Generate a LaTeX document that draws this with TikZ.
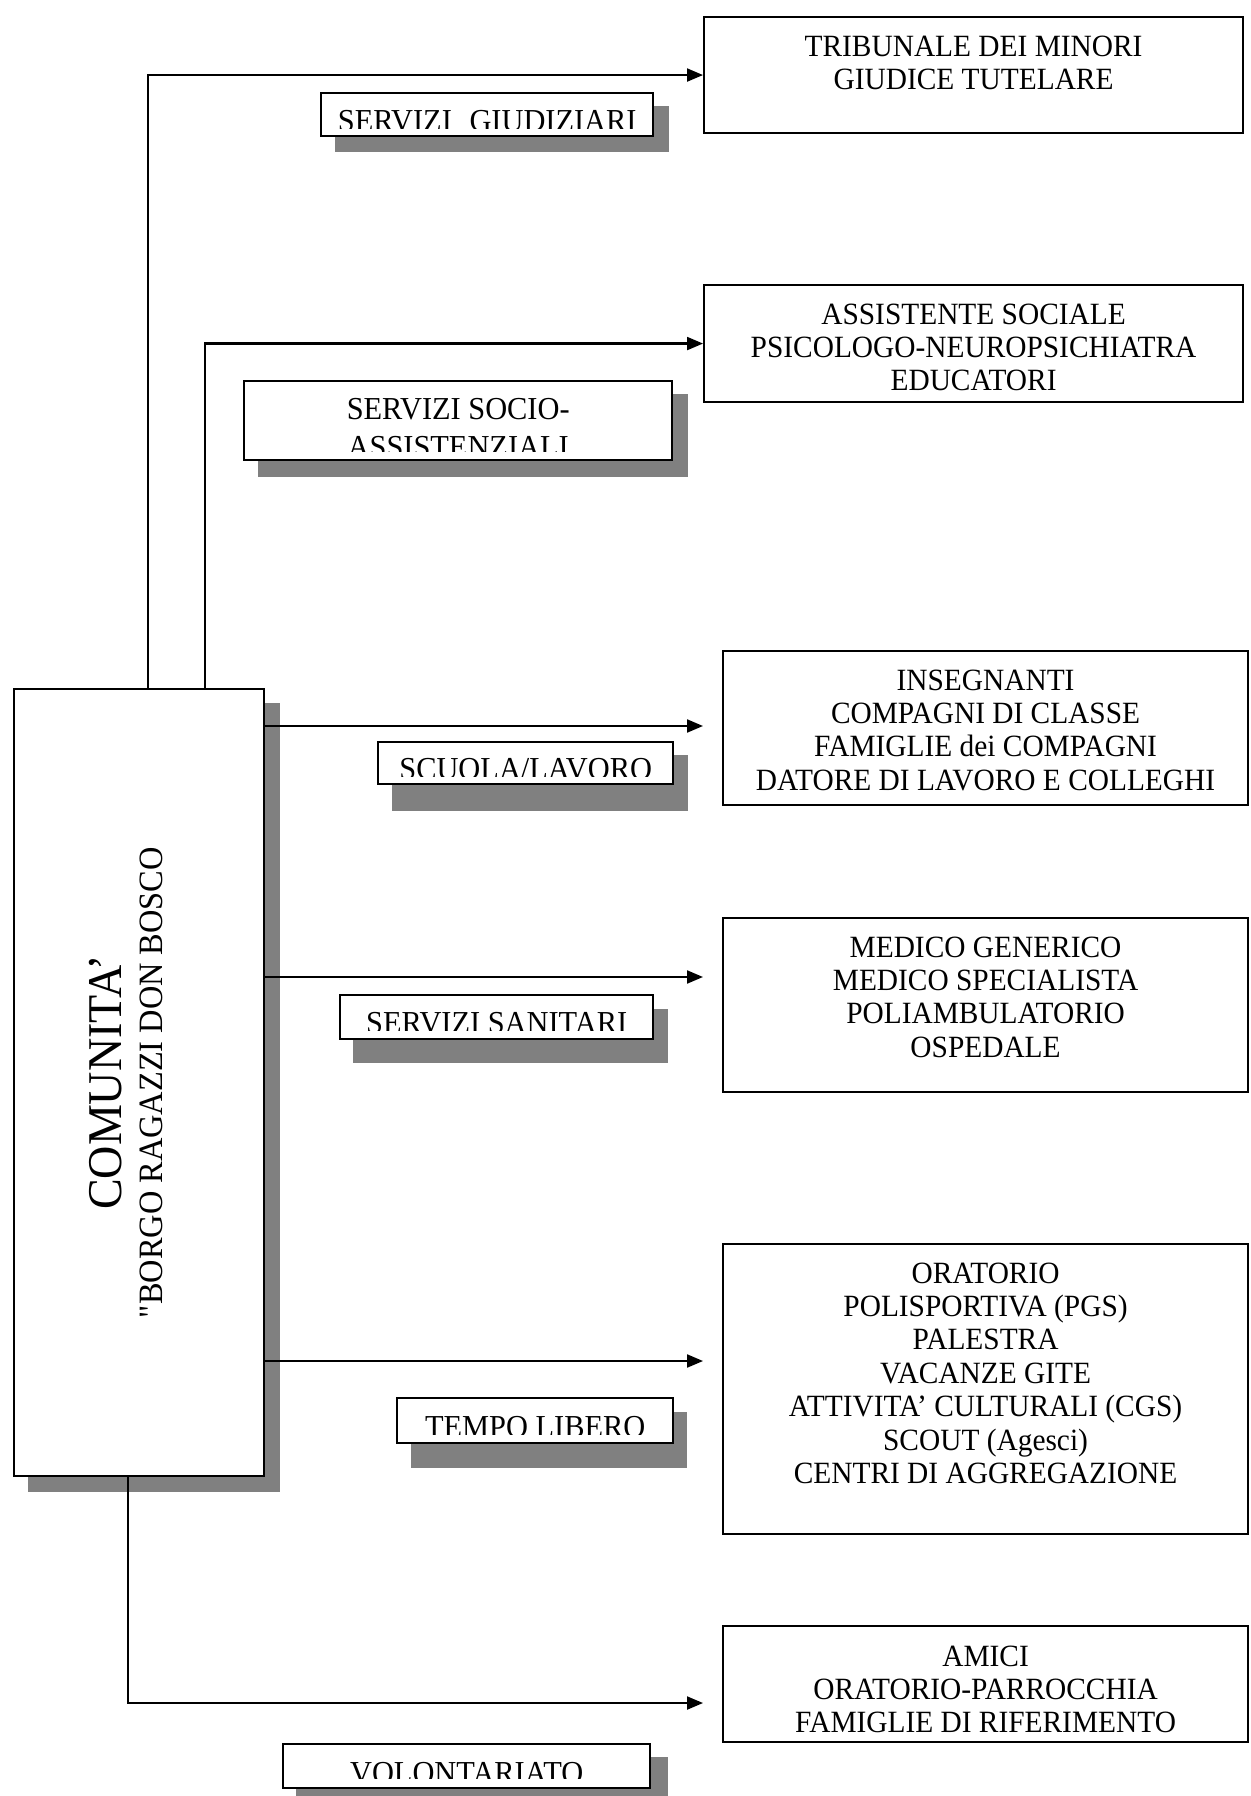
\documentclass[tikz,border=0pt]{standalone}
\usepackage{fontspec}
\setmainfont{Liberation Serif}[FakeStretch=0.95]
\newfontfamily\quotefont{Liberation Serif}[FakeStretch=0.95]
\usetikzlibrary{positioning,arrows.meta}
\tikzset{
  >={Triangle[length=0.16cm,width=0.13cm]},
  conn/.style={line width=0.6pt},
  entebox/.style={draw, line width=0.6pt, rectangle, anchor=north west, inner sep=0pt},
  entetext/.style={align=center, inner sep=0pt, font=\fontsize{8.8}{9.5}\selectfont},
  labelbox/.style={draw, fill=white, line width=0.7pt, anchor=north west, inner sep=0pt},
  labeltext/.style={align=center, inner sep=0pt, font=\fontsize{9.1}{10}\selectfont},
}
\begin{document}
\begin{tikzpicture}
\useasboundingbox (0,0) rectangle (12.5,-17.96);
% comunita'
\fill[gray] (0.28,-7.03) rectangle (2.80,-14.92);
\node[entebox, fill=white, minimum width=2.50cm, minimum height=7.87cm] (comunita) at (0.13,-6.88) {};
\node[rotate=90, align=center, inner sep=0pt, font=\fontsize{9.7}{11.6}\selectfont] (comunitaText) at ([xshift=-0.13cm]comunita.center)
  {{\fontsize{13.8}{11.6}\selectfont COMUNITA’}\\{\quotefont"}BORGO RAGAZZI DON BOSCO};
% enti
\node[entebox, minimum width=5.39cm, minimum height=1.16cm] (tribunale) at (7.03,-0.16) {};
\node[entetext, below=0.19cm of tribunale.north] (tribunaleText) {TRIBUNALE DEI MINORI\\GIUDICE TUTELARE};
\node[entebox, minimum width=5.39cm, minimum height=1.17cm] (assistente) at (7.03,-2.84) {};
\node[entetext, below=0.19cm of assistente.north] (assistenteText) {ASSISTENTE SOCIALE\\PSICOLOGO-NEUROPSICHIATRA\\EDUCATORI};
\node[entebox, minimum width=5.25cm, minimum height=1.54cm] (scuola) at (7.22,-6.50) {};
\node[entetext, below=0.19cm of scuola.north] (scuolaText) {INSEGNANTI\\COMPAGNI DI CLASSE\\FAMIGLIE dei COMPAGNI\\DATORE DI LAVORO E COLLEGHI};
\node[entebox, minimum width=5.25cm, minimum height=1.74cm] (sanitari) at (7.22,-9.17) {};
\node[entetext, below=0.19cm of sanitari.north] (sanitariText) {MEDICO GENERICO\\MEDICO SPECIALISTA\\POLIAMBULATORIO\\OSPEDALE};
\node[entebox, minimum width=5.25cm, minimum height=2.90cm] (tempolibero) at (7.22,-12.43) {};
\node[entetext, below=0.19cm of tempolibero.north] (tempoliberoText) {ORATORIO\\POLISPORTIVA (PGS)\\PALESTRA\\VACANZE GITE\\ATTIVITA’ CULTURALI (CGS)\\SCOUT (Agesci)\\CENTRI DI AGGREGAZIONE};
\node[entebox, minimum width=5.25cm, minimum height=1.16cm] (amici) at (7.22,-16.25) {};
\node[entetext, below=0.20cm of amici.north] (amiciText) {AMICI\\ORATORIO-PARROCCHIA\\FAMIGLIE DI RIFERIMENTO};
% collegamenti
\coordinate (risalita1) at (1.48,-0.73);
\coordinate (risalita2) at (2.05,-3.41);
\coordinate (fine3) at (7.03,-7.26);
\coordinate (fine4) at (7.03,-9.77);
\coordinate (fine5) at (7.03,-13.61);
\coordinate (discesa) at (1.28,-17.03);
\coordinate (fine6) at (7.03,-17.03);
\draw[conn,->] (comunita.north -| risalita1) |- (tribunale.west);
\draw[conn,->] (comunita.north -| risalita2) |- (assistente.west);
\draw[conn,->] (comunita.east |- fine3) -- (fine3);
\draw[conn,->] (comunita.east |- fine4) -- (fine4);
\draw[conn,->] (comunita.east |- fine5) -- (fine5);
\draw[conn,->] (comunita.south -| discesa) |- (fine6);
% etichette
\fill[gray] (3.35,-1.06) rectangle (6.69,-1.52);
\node[labelbox, minimum width=3.32cm, minimum height=0.43cm] (giudiziari) at (3.20,-0.92) {};
\begin{scope}
\clip (giudiziari.north west) rectangle ([yshift=0.09cm]giudiziari.south east);
\node[labeltext, below=0.18cm of giudiziari.north] (giudiziariText) {SERVIZI\hspace{0.1cm} GIUDIZIARI};
\end{scope}
\fill[gray] (2.58,-3.94) rectangle (6.88,-4.77);
\node[labelbox, minimum width=4.28cm, minimum height=0.79cm] (socio) at (2.43,-3.80) {};
\begin{scope}
\clip (socio.north west) rectangle ([yshift=0.10cm]socio.south east);
\node[labeltext, below=0.18cm of socio.north, font=\fontsize{9.1}{10.6}\selectfont] (socioText) {SERVIZI SOCIO-\\ASSISTENZIALI};
\end{scope}
\fill[gray] (3.92,-7.55) rectangle (6.88,-8.11);
\node[labelbox, minimum width=2.95cm, minimum height=0.42cm] (lavoro) at (3.77,-7.41) {};
\begin{scope}
\clip (lavoro.north west) rectangle ([yshift=0.09cm]lavoro.south east);
\node[labeltext, below=0.17cm of lavoro.north] (lavoroText) {SCUOLA/LAVORO};
\end{scope}
\fill[gray] (3.53,-10.09) rectangle (6.68,-10.63);
\node[labelbox, minimum width=3.13cm, minimum height=0.44cm] (sanita) at (3.39,-9.94) {};
\begin{scope}
\clip (sanita.north west) rectangle ([yshift=0.10cm]sanita.south east);
\node[labeltext, below=0.18cm of sanita.north] (sanitaText) {SERVIZI SANITARI};
\end{scope}
\fill[gray] (4.11,-14.12) rectangle (6.87,-14.68);
\node[labelbox, minimum width=2.76cm, minimum height=0.45cm] (libero) at (3.96,-13.97) {};
\begin{scope}
\clip (libero.north west) rectangle ([yshift=0.10cm]libero.south east);
\node[labeltext, below=0.19cm of libero.north] (liberoText) {TEMPO LIBERO};
\end{scope}
\fill[gray] (2.96,-17.57) rectangle (6.68,-18.10);
\node[labelbox, minimum width=3.67cm, minimum height=0.44cm] (volontariato) at (2.82,-17.43) {};
\begin{scope}
\clip (volontariato.north west) rectangle ([yshift=0.11cm]volontariato.south east);
\node[labeltext, below=0.19cm of volontariato.north] (volontariatoText) {VOLONTARIATO};
\end{scope}
\end{tikzpicture}
\end{document}
